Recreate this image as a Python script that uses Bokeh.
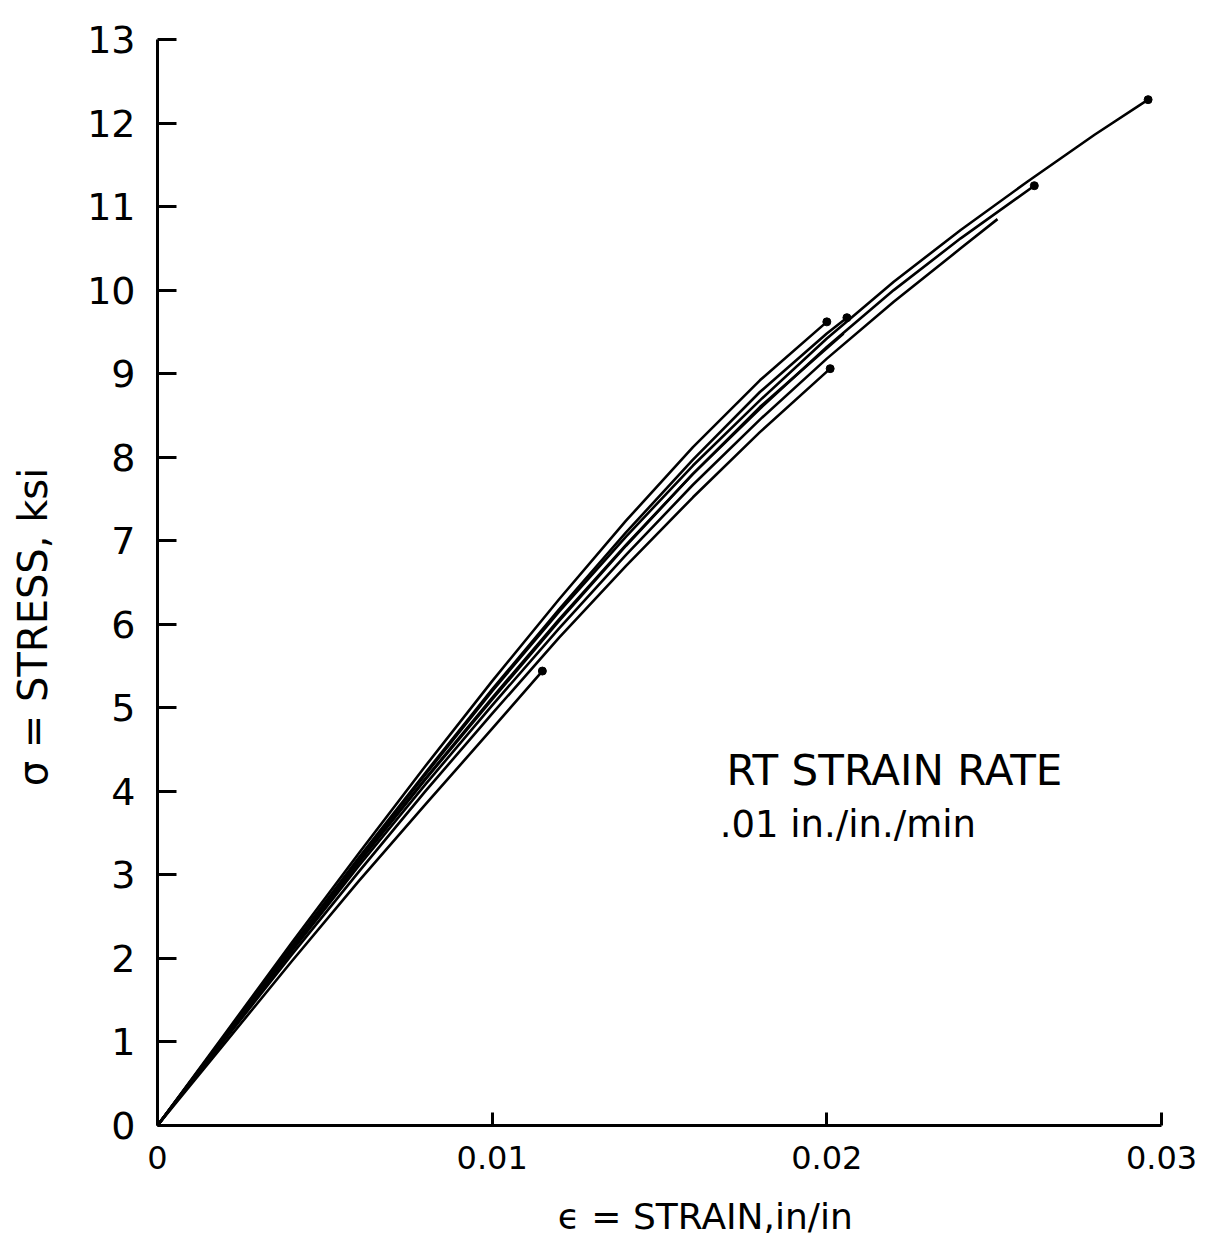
from bokeh.plotting import figure
from bokeh.models import Range1d, FixedTicker, Label
from bokeh.embed import file_html
from bokeh.resources import INLINE

# ---- data (strain in in/in, stress in ksi) ----
strain_A = [0, 0.002, 0.004, 0.006, 0.008, 0.010, 0.012, 0.014, 0.016, 0.018, 0.020, 0.022, 0.024, 0.026, 0.028, 0.0296]
stress_A = [0, 1.07, 2.13, 3.18, 4.20, 5.20, 6.15, 7.05, 7.90, 8.68, 9.42, 10.10, 10.72, 11.30, 11.86, 12.28]

strain_B = [0, 0.002, 0.004, 0.006, 0.008, 0.010, 0.012, 0.014, 0.016, 0.018, 0.020, 0.022, 0.024, 0.0262]
stress_B = [0, 1.06, 2.11, 3.15, 4.15, 5.12, 6.06, 6.95, 7.80, 8.58, 9.32, 10.00, 10.62, 11.25]

strain_C = [0, 0.002, 0.004, 0.006, 0.008, 0.010, 0.012, 0.014, 0.016, 0.018, 0.020, 0.022, 0.024, 0.0251]
stress_C = [0, 1.05, 2.08, 3.10, 4.08, 5.03, 5.95, 6.83, 7.67, 8.45, 9.18, 9.86, 10.50, 10.85]

strain_D = [0, 0.002, 0.004, 0.006, 0.008, 0.010, 0.012, 0.014, 0.016, 0.018, 0.020, 0.0206]
stress_D = [0, 1.07, 2.14, 3.20, 4.22, 5.22, 6.18, 7.10, 7.97, 8.78, 9.48, 9.67]

strain_E = [0, 0.002, 0.004, 0.006, 0.008, 0.010, 0.012, 0.014, 0.016, 0.018, 0.0200]
stress_E = [0, 1.09, 2.18, 3.25, 4.30, 5.32, 6.30, 7.24, 8.12, 8.92, 9.62]

strain_F = [0, 0.002, 0.004, 0.006, 0.008, 0.010, 0.012, 0.014, 0.016, 0.018, 0.0205]
stress_F = [0, 1.06, 2.11, 3.14, 4.14, 5.10, 6.04, 6.94, 7.80, 8.60, 9.48]

strain_G = [0, 0.002, 0.004, 0.006, 0.008, 0.010, 0.012, 0.014, 0.016, 0.018, 0.0201]
stress_G = [0, 1.02, 2.04, 3.03, 4.00, 4.93, 5.84, 6.70, 7.52, 8.30, 9.06]

strain_H = [0, 0.002, 0.004, 0.006, 0.008, 0.010, 0.0115]
stress_H = [0, 0.98, 1.96, 2.92, 3.84, 4.75, 5.44]

curves = [(strain_A, stress_A), (strain_B, stress_B), (strain_C, stress_C),
          (strain_D, stress_D), (strain_E, stress_E), (strain_F, stress_F),
          (strain_G, stress_G), (strain_H, stress_H)]
dotted_ends = [0, 1, 3, 4, 6, 7]

x_ticks = [0, 0.01, 0.02, 0.03]
x_tick_labels = ["0", "0.01", "0.02", "0.03"]
y_ticks = list(range(0, 14))

NB = "\u00a0"
x_title = NB * 8 + "\u03f5 = STRAIN,in/in"
y_title = "\u03c3  = STRESS, ksi" + NB * 6
note_1 = "RT  STRAIN RATE"
note_2 = ".01 in./in./min"

FONT = "DejaVu Sans"

p = figure(width=1222, height=1256, output_backend="svg", toolbar_location=None,
           x_range=Range1d(0, 0.03), y_range=Range1d(0, 13),
           min_border_left=157, min_border_right=61, min_border_top=39,
           min_border_bottom=131)
p.outline_line_color = None
p.grid.visible = False
p.background_fill_color = "white"
p.border_fill_color = "white"

for ax in (p.xaxis[0], p.yaxis[0]):
    ax.axis_line_width = 3
    ax.axis_line_color = "black"
    ax.major_tick_line_width = 3
    ax.major_tick_line_color = "black"
    ax.major_tick_out = 0
    ax.minor_tick_line_color = None
    ax.major_label_text_font = FONT
    ax.major_label_text_color = "black"
    ax.axis_label_text_font = FONT
    ax.axis_label_text_font_style = "normal"
    ax.axis_label_text_color = "black"

p.xaxis.ticker = FixedTicker(ticks=x_ticks)
p.xaxis.major_label_overrides = {t: s for t, s in zip(x_ticks, x_tick_labels)}
p.xaxis.major_tick_in = 13
p.xaxis.major_label_standoff = 20
p.xaxis.major_label_text_font_size = "32px"
p.xaxis.axis_label = x_title
p.xaxis.axis_label_text_font_size = "36px"
p.xaxis.axis_label_standoff = 24

p.yaxis.ticker = FixedTicker(ticks=y_ticks)
p.yaxis.major_tick_in = 19
p.yaxis.major_label_standoff = 22
p.yaxis.major_label_text_font_size = "38px"
p.yaxis.axis_label = y_title
p.yaxis.axis_label_text_font_size = "40px"
p.yaxis.axis_label_standoff = 28

for sx, sy in curves:
    p.line(sx, sy, line_color="black", line_width=2.6, line_join="round")
for i in dotted_ends:
    sx, sy = curves[i]
    p.scatter([sx[-1]], [sy[-1]], size=8, color="black")

p.add_layout(Label(x=0.0170, y=4.25, text=note_1, text_font=FONT,
                   text_font_size="42px", text_align="left",
                   text_baseline="alphabetic", text_color="black"))
p.add_layout(Label(x=0.0168, y=3.6, text=note_2, text_font=FONT,
                   text_font_size="37px", text_align="left",
                   text_baseline="alphabetic", text_color="black"))

open("out.html", "w").write(file_html(p, INLINE))
